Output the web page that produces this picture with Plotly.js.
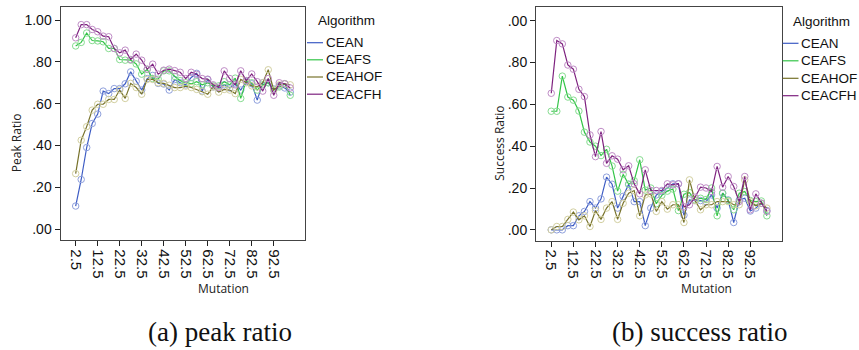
<!DOCTYPE html>
<html>
<head>
<meta charset="utf-8">
<script src="https://cdn.plot.ly/plotly-3.0.1.min.js"></script>
<style>
  html, body { margin: 0; padding: 0; background: #ffffff; }
  #chart { width: 859px; height: 350px; }
</style>
</head>
<body>
<div id="chart"></div>
<script>
// ---------------- data ----------------
const mutation = [2.5, 5, 7.5, 10, 12.5, 15, 17.5, 20, 22.5, 25, 27.5, 30, 32.5, 35, 37.5, 40, 42.5, 45, 47.5, 50,
                  52.5, 55, 57.5, 60, 62.5, 65, 67.5, 70, 72.5, 75, 77.5, 80, 82.5, 85, 87.5, 90, 92.5, 95, 97.5, 100];

const algorithms = ['CEAN', 'CEAFS', 'CEAHOF', 'CEACFH'];

const xTickVals = [2.5, 12.5, 22.5, 32.5, 42.5, 52.5, 62.5, 72.5, 82.5, 92.5];
const xTickText = ['2.5', '12.5', '22.5', '32.5', '42.5', '52.5', '62.5', '72.5', '82.5', '92.5'];
const yTickVals = [0, 0.2, 0.4, 0.6, 0.8, 1.0];
const peakYTickText = ['.00', '.20', '.40', '.60', '.80', '1.00'];
const successYTickText = ['.00', '.20', '.40', '.60', '.80', '.00'];

// (a) peak ratio
const peakCEAN   = [0.110,0.237,0.390,0.505,0.550,0.660,0.648,0.672,0.672,0.695,0.752,0.707,0.665,0.720,0.735,0.697,0.694,0.665,0.715,0.700,
                    0.690,0.725,0.745,0.660,0.715,0.680,0.672,0.690,0.675,0.695,0.665,0.705,0.695,0.617,0.700,0.700,0.670,0.685,0.675,0.655];
const peakCEAFS  = [0.876,0.893,0.938,0.902,0.900,0.896,0.864,0.864,0.811,0.808,0.808,0.790,0.741,0.764,0.720,0.717,0.757,0.757,0.730,0.710,
                    0.700,0.695,0.705,0.690,0.700,0.685,0.685,0.705,0.690,0.722,0.625,0.710,0.700,0.665,0.690,0.700,0.665,0.680,0.695,0.640];
const peakCEAHOF = [0.265,0.425,0.490,0.569,0.597,0.597,0.620,0.620,0.665,0.625,0.697,0.677,0.645,0.716,0.716,0.700,0.697,0.688,0.677,0.677,
                    0.684,0.677,0.668,0.657,0.645,0.680,0.655,0.668,0.665,0.648,0.716,0.700,0.685,0.680,0.700,0.762,0.665,0.690,0.695,0.690];
const peakCEACFH = [0.915,0.978,0.978,0.955,0.944,0.923,0.920,0.864,0.843,0.856,0.811,0.837,0.808,0.765,0.789,0.741,0.760,0.765,0.758,0.750,
                    0.720,0.750,0.740,0.720,0.717,0.690,0.678,0.757,0.720,0.690,0.757,0.710,0.742,0.705,0.660,0.720,0.640,0.700,0.695,0.675];

// (b) success ratio
const succCEAN   = [0.000,0.000,0.000,0.020,0.020,0.067,0.088,0.135,0.104,0.148,0.252,0.218,0.104,0.160,0.218,0.135,0.135,0.020,0.104,0.167,
                    0.183,0.200,0.220,0.220,0.070,0.143,0.140,0.140,0.135,0.167,0.104,0.175,0.143,0.035,0.143,0.151,0.090,0.104,0.127,0.092];
const succCEAFS  = [0.567,0.567,0.735,0.635,0.620,0.568,0.467,0.420,0.400,0.355,0.385,0.305,0.185,0.265,0.218,0.235,0.335,0.190,0.200,0.125,
                    0.165,0.185,0.195,0.092,0.170,0.178,0.143,0.151,0.145,0.200,0.067,0.175,0.140,0.096,0.175,0.183,0.140,0.135,0.138,0.067];
const succCEAHOF = [0.000,0.016,0.016,0.050,0.085,0.048,0.067,0.016,0.092,0.050,0.104,0.135,0.050,0.127,0.175,0.188,0.067,0.167,0.172,0.088,
                    0.135,0.099,0.120,0.120,0.035,0.239,0.140,0.096,0.120,0.120,0.135,0.135,0.135,0.120,0.120,0.239,0.135,0.115,0.127,0.104];
const succCEACFH = [0.653,0.905,0.889,0.788,0.768,0.672,0.637,0.454,0.350,0.470,0.318,0.354,0.338,0.287,0.306,0.220,0.172,0.287,0.188,0.188,
                    0.188,0.220,0.215,0.220,0.110,0.120,0.156,0.204,0.200,0.183,0.303,0.204,0.255,0.207,0.135,0.255,0.096,0.172,0.127,0.088];

const peakSeries = [peakCEAN, peakCEAFS, peakCEAHOF, peakCEACFH];
const succSeries = [succCEAN, succCEAFS, succCEAHOF, succCEACFH];

// ---------------- style ----------------
const lineColors   = ['#3d5cc4', '#33c447', '#77722a', '#7e227f'];
const markerColors = ['#8fa0dc', '#86dc90', '#d2cfa0', '#bf8cc6'];

const W = 859, H = 350;
const fx = p => p / W;
const fy = p => 1 - p / H;

const traces = [];
function addSeries(seriesList, xa, ya) {
  seriesList.forEach((vals, k) => {
    traces.push({
      type: 'scatter', mode: 'lines', x: mutation, y: vals, xaxis: xa, yaxis: ya,
      name: algorithms[k], showlegend: false, hoverinfo: 'skip',
      line: { color: lineColors[k], width: 1.2 }
    });
    traces.push({
      type: 'scatter', mode: 'markers', x: mutation, y: vals, xaxis: xa, yaxis: ya,
      name: algorithms[k], showlegend: false, hoverinfo: 'skip',
      marker: { symbol: 'circle-open', size: 6.5, color: markerColors[k], line: { width: 1, color: markerColors[k] } }
    });
  });
}
addSeries(peakSeries, 'x', 'y');
addSeries(succSeries, 'x2', 'y2');

const tickFont = { family: 'Liberation Sans, Arial, sans-serif', size: 15, color: '#111' };
const yTickFont = { family: 'Liberation Sans, Arial, sans-serif', size: 14, color: '#111' };

function xAxis(domain, anchor) {
  return {
    domain: domain, anchor: anchor, range: [-4.4, 106.7],
    tickmode: 'array', tickvals: xTickVals, ticktext: xTickText, tickangle: 90,
    ticks: 'outside', ticklen: 5, tickcolor: '#222', tickwidth: 1,
    showline: true, mirror: true, linecolor: '#444', linewidth: 1,
    showgrid: false, zeroline: false, tickfont: tickFont, fixedrange: true
  };
}
function yAxis(domain, anchor, range, ticktext) {
  return {
    domain: domain, anchor: anchor, range: range,
    tickmode: 'array', tickvals: yTickVals, ticktext: ticktext,
    ticks: 'outside', ticklen: 5, tickcolor: '#222', tickwidth: 1,
    showline: true, mirror: true, linecolor: '#444', linewidth: 1,
    showgrid: false, zeroline: false, tickfont: yTickFont, fixedrange: true
  };
}

const annotations = [];
const shapes = [];
const titleFont = { family: 'Open Sans, Liberation Sans, sans-serif', size: 12, color: '#222' };
const legFont = { family: 'Liberation Sans, Arial, sans-serif', size: 13.5, color: '#111' };

function axisTitle(text, x, y, angle) {
  annotations.push({ xref: 'paper', yref: 'paper', x: fx(x), y: fy(y), text: text, showarrow: false,
    xanchor: 'center', yanchor: 'middle', textangle: angle, font: titleFont });
}
axisTitle('Peak Ratio', 16.7, 142.5, -90);
axisTitle('Mutation', 223.3, 288.3, 0);
axisTitle('Success Ratio', 500, 143.8, -90);
axisTitle('Mutation', 706.7, 288.3, 0);

function legend(titleX, titleY, lineX0, lineX1, textX, rowsY) {
  annotations.push({ xref: 'paper', yref: 'paper', x: fx(titleX), y: fy(titleY), text: 'Algorithm', showarrow: false,
    xanchor: 'left', yanchor: 'middle', font: legFont });
  algorithms.forEach((name, k) => {
    shapes.push({ type: 'line', xref: 'paper', yref: 'paper', x0: fx(lineX0), x1: fx(lineX1), y0: fy(rowsY[k]), y1: fy(rowsY[k]),
      line: { color: lineColors[k], width: 1.2 } });
    annotations.push({ xref: 'paper', yref: 'paper', x: fx(textX), y: fy(rowsY[k]), text: name, showarrow: false,
      xanchor: 'left', yanchor: 'middle', font: legFont });
  });
}
legend(315.5, 20.7, 307, 323, 323.5, [42.7, 59.8, 77.0, 94.2]);
legend(790.5, 21.7, 782.7, 798.5, 799, [43.3, 60.8, 78.3, 95.7]);

const capFont = { family: 'Liberation Serif, Times New Roman, serif', size: 27, color: '#111' };
annotations.push({ xref: 'paper', yref: 'paper', x: fx(220), y: fy(332), text: '(a) peak ratio', showarrow: false,
  xanchor: 'center', yanchor: 'middle', font: capFont });
annotations.push({ xref: 'paper', yref: 'paper', x: fx(699), y: fy(332), text: '(b) success ratio', showarrow: false,
  xanchor: 'center', yanchor: 'middle', font: capFont });

const layout = {
  width: W, height: H,
  margin: { l: 0, r: 0, t: 0, b: 0 },
  paper_bgcolor: '#ffffff', plot_bgcolor: '#ffffff',
  showlegend: false,
  xaxis: xAxis([fx(60.5), fx(305)], 'y'),
  yaxis: yAxis([fy(240.3), fy(7.3)], 'x', [-0.054, 1.061], peakYTickText),
  xaxis2: xAxis([fx(536), fx(781.7)], 'y2'),
  yaxis2: yAxis([fy(240.5), fy(7.3)], 'x2', [-0.051, 1.064], successYTickText),
  annotations: annotations,
  shapes: shapes
};

Plotly.newPlot('chart', traces, layout, { staticPlot: true, displayModeBar: false });
</script>
</body>
</html>
